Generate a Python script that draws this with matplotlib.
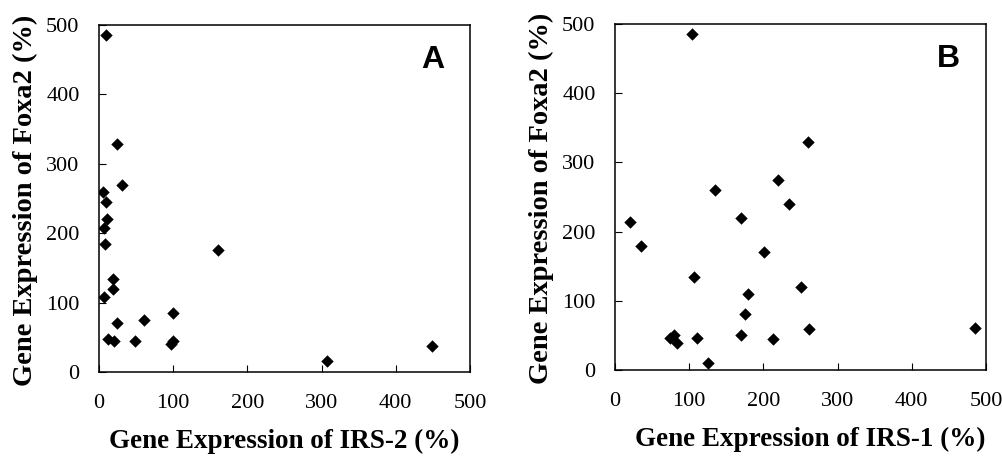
import matplotlib
matplotlib.use("Agg")
import matplotlib.pyplot as plt

# Panel A: IRS-2 vs Foxa2
irs2 = [9.4, 23.8, 31, 5, 9, 10.4, 6.7, 8.5, 19, 18.4, 6.7, 24.7, 60.7, 99.7,
        12, 20, 48.5, 96.6, 100, 160, 307, 449]
foxa2_a = [485, 329, 270, 260, 245, 220, 208, 184, 134, 119, 108, 70, 75, 84.5,
           48, 44, 45, 41, 45, 176, 16, 37.5]

# Panel B: IRS-1 vs Foxa2
irs1 = [104, 260.6, 219.7, 234.6, 134.4, 169.4, 20.2, 34.6, 200.4, 107, 179.3,
        250.3, 174.8, 261, 485, 169.4, 213, 111, 74, 79.5, 83, 125]
foxa2_b = [485.5, 330, 274, 240, 259.6, 220, 214, 178.7, 170, 134, 109.3,
           120.4, 81, 59, 60, 50, 44.8, 46, 46.7, 50.6, 38.5, 10.6]

ticks = [0, 100, 200, 300, 400, 500]

W, H = 1002, 461
fig = plt.figure(figsize=(W / 100, H / 100), dpi=100)

serif = "Liberation Serif"


def panel(rect, x, y, xlabel, letter, xlab_x):
  l, t, r, b = rect
  ax = fig.add_axes([l / W, 1 - b / H, (r - l) / W, (b - t) / H])
  ax.scatter(x, y, s=40, marker="D", color="black", linewidths=0, zorder=3)
  ax.set_xlim(0, 500)
  ax.set_ylim(0, 500)
  ax.set_xticks(ticks)
  ax.set_yticks(ticks)
  ax.tick_params(direction="in", length=5, width=0.8, pad=16,
                 labelsize=16, top=False, right=False)
  ax.tick_params(axis="y", pad=14)
  for lab in ax.get_xticklabels() + ax.get_yticklabels():
    lab.set_fontfamily(serif)
  for sp in ax.spines.values():
    sp.set_linewidth(1.1)
  ax.set_xlabel(xlabel, fontfamily=serif, fontweight="bold", fontsize=19.5, va="center")
  ax.xaxis.set_label_coords(xlab_x, -0.2)
  ax.set_ylabel("Gene Expression of Foxa2 (%)", fontfamily=serif,
                fontweight="bold", fontsize=20.5, va="center")
  ax.yaxis.set_label_coords(-0.197, 0.495)
  ax.text(0.9, 0.9, letter, transform=ax.transAxes, ha="center", va="center",
          fontfamily="Liberation Sans", fontweight="bold", fontsize=23)
  return ax


panel((99, 25, 470, 372), irs2, foxa2_a, "Gene Expression of IRS-2 (%)", "A", 0.5)
panel((615, 24, 986, 370), irs1, foxa2_b, "Gene Expression of IRS-1 (%)", "B", 0.527)

fig.savefig("out.png", dpi=100)
